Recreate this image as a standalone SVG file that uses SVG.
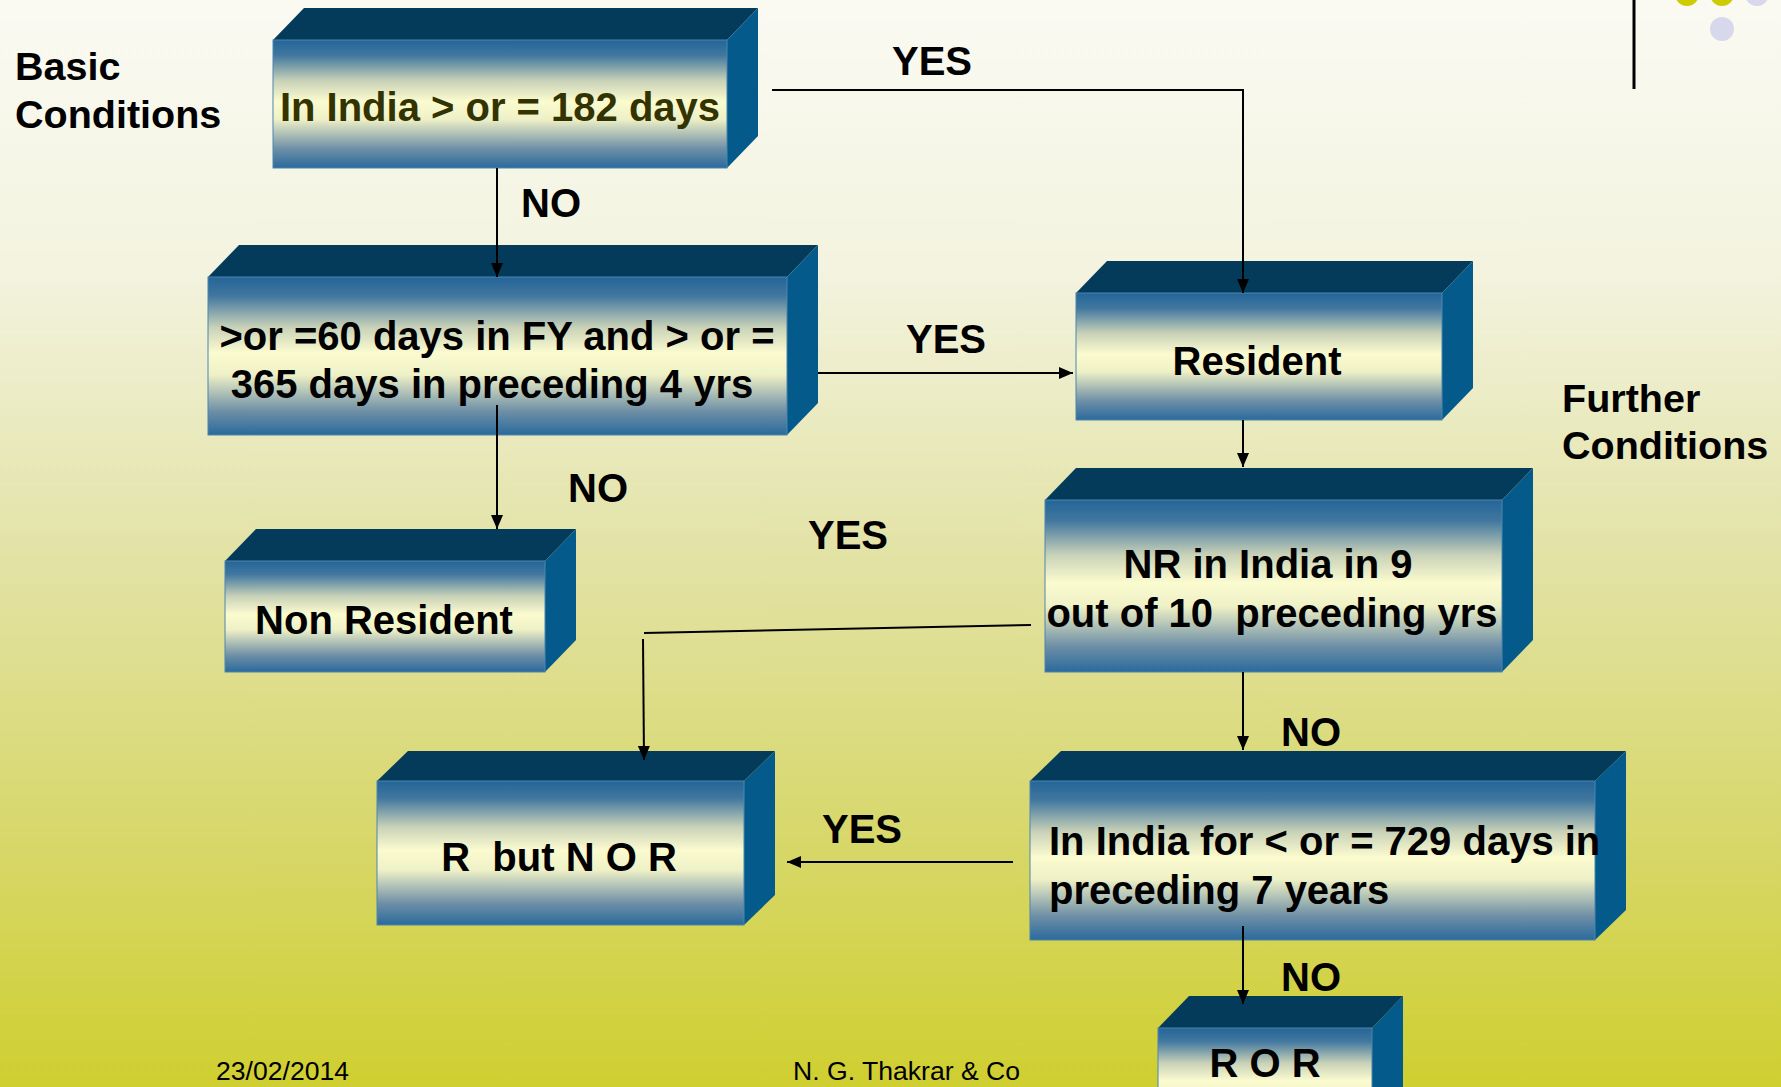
<svg xmlns="http://www.w3.org/2000/svg" width="1781" height="1087" viewBox="0 0 1781 1087">
<defs>
<linearGradient id="bg" x1="0" y1="0" x2="0" y2="1">
<stop offset="0" stop-color="#fafaf3"/>
<stop offset="0.25" stop-color="#f3f3df"/>
<stop offset="0.5" stop-color="#e3e3a8"/>
<stop offset="0.75" stop-color="#d8d870"/>
<stop offset="1" stop-color="#cfcf30"/>
</linearGradient>
<linearGradient id="face" x1="0" y1="0" x2="0" y2="1">
<stop offset="0" stop-color="#246598"/>
<stop offset="0.12" stop-color="#41779f"/>
<stop offset="0.32" stop-color="#c9d2b8"/>
<stop offset="0.48" stop-color="#fbfbcf"/>
<stop offset="0.62" stop-color="#eef0c6"/>
<stop offset="0.85" stop-color="#6e8fa6"/>
<stop offset="1" stop-color="#2a6a9c"/>
</linearGradient>
<marker id="arr" markerWidth="14" markerHeight="12" refX="14" refY="6" orient="auto" markerUnits="userSpaceOnUse">
<path d="M0,0 L14,6 L0,12 z" fill="#000"/>
</marker>
<style>
.front{fill:url(#face);stroke:#4d86ad;stroke-width:1}
.top{fill:#043b5a}
.side{fill:#045a8a}
.t{font-family:"Liberation Sans",Arial,sans-serif;font-weight:bold;font-size:40px;fill:#000}
.lbl{font-family:"Liberation Sans",Arial,sans-serif;font-weight:bold;font-size:39.5px;fill:#000}
.ft{font-family:"Liberation Sans",Arial,sans-serif;font-size:25px;fill:#000}
.c{fill:none;stroke:#000;stroke-width:2}
</style>
</defs>
<rect x="0" y="0" width="1781" height="1087" fill="url(#bg)"/>

<g id="decor">
<line x1="1634" y1="0" x2="1634" y2="89" stroke="#000" stroke-width="3"/>
<circle cx="1687" cy="-6" r="12" fill="#cccc00"/>
<circle cx="1722" cy="-6" r="12" fill="#cccc00"/>
<circle cx="1757" cy="-6" r="12" fill="#d8d8ec"/>
<circle cx="1722" cy="29" r="12" fill="#d8d8ec"/>
<circle cx="1793" cy="29" r="12" fill="#d8d8ec"/>
</g>

<g id="labels">
<text class="lbl" x="15" y="80">Basic</text>
<text class="lbl" x="15" y="128">Conditions</text>
<text class="lbl" x="1562" y="412">Further</text>
<text class="lbl" x="1562" y="459">Conditions</text>
<text class="t" x="892" y="75">YES</text>
<text class="t" x="521" y="217">NO</text>
<text class="t" x="906" y="353">YES</text>
<text class="t" x="568" y="502">NO</text>
<text class="t" x="808" y="549">YES</text>
<text class="t" x="1281" y="746">NO</text>
<text class="t" x="822" y="843">YES</text>
<text class="t" x="1281" y="991">NO</text>
</g>

<g id="nodeA">
<polygon class="top" points="273,40 304,8 758,8 727,40"/>
<polygon class="side" points="727,40 758,8 758,136 727,168"/>
<rect class="front" x="273" y="40" width="454" height="128"/>
<text class="t" x="500" y="121" text-anchor="middle" style="fill:#333300">In India &gt; or = 182 days</text>
</g>

<g id="nodeB">
<polygon class="top" points="208,277 239,245 818,245 787,277"/>
<polygon class="side" points="787,277 818,245 818,403 787,435"/>
<rect class="front" x="208" y="277" width="579" height="158"/>
<text class="t" x="497" y="350" text-anchor="middle">&gt;or =60 days in FY and &gt; or =</text>
<text class="t" x="492" y="398" text-anchor="middle">365 days in preceding 4 yrs</text>
</g>

<g id="nodeC">
<polygon class="top" points="1076,293 1107,261 1473,261 1442,293"/>
<polygon class="side" points="1442,293 1473,261 1473,388 1442,420"/>
<rect class="front" x="1076" y="293" width="366" height="127"/>
<text class="t" x="1257" y="375" text-anchor="middle">Resident</text>
</g>

<g id="nodeD">
<polygon class="top" points="225,561 256,529 576,529 545,561"/>
<polygon class="side" points="545,561 576,529 576,640 545,672"/>
<rect class="front" x="225" y="561" width="320" height="111"/>
<text class="t" x="384" y="634" text-anchor="middle">Non Resident</text>
</g>

<g id="nodeE">
<polygon class="top" points="1045,500 1076,468 1533,468 1502,500"/>
<polygon class="side" points="1502,500 1533,468 1533,640 1502,672"/>
<rect class="front" x="1045" y="500" width="457" height="172"/>
<text class="t" x="1268" y="578" text-anchor="middle">NR in India in 9</text>
<text class="t" x="1272" y="627" text-anchor="middle" xml:space="preserve">out of 10  preceding yrs</text>
</g>

<g id="nodeF">
<polygon class="top" points="377,781 408,751 775,751 744,781"/>
<polygon class="side" points="744,781 775,751 775,895 744,925"/>
<rect class="front" x="377" y="781" width="367" height="144"/>
<text class="t" x="559" y="871" text-anchor="middle" xml:space="preserve">R  but N O R</text>
</g>

<g id="nodeG">
<polygon class="top" points="1030,781 1061,751 1626,751 1595,781"/>
<polygon class="side" points="1595,781 1626,751 1626,910 1595,940"/>
<rect class="front" x="1030" y="781" width="565" height="159"/>
<text class="t" x="1049" y="855">In India for &lt; or = 729 days in</text>
<text class="t" x="1049" y="904">preceding 7 years</text>
</g>

<g id="nodeH">
<polygon class="top" points="1158,1028 1189,996 1403,996 1372,1028"/>
<polygon class="side" points="1372,1028 1403,996 1403,1106 1372,1138"/>
<rect class="front" x="1158" y="1028" width="214" height="110"/>
<text class="t" x="1265" y="1077" text-anchor="middle">R O R</text>
</g>

<g id="connectors">
<polyline class="c" points="772,90 1243,90 1243,293" marker-end="url(#arr)"/>
<line class="c" x1="497" y1="168" x2="497" y2="277" marker-end="url(#arr)"/>
<line class="c" x1="818" y1="373" x2="1073" y2="373" marker-end="url(#arr)"/>
<line class="c" x1="497" y1="405" x2="497" y2="529" marker-end="url(#arr)"/>
<line class="c" x1="1243" y1="420" x2="1243" y2="467" marker-end="url(#arr)"/>
<line class="c" x1="1031" y1="625" x2="644" y2="633"/>
<line class="c" x1="643" y1="639" x2="644" y2="760" marker-end="url(#arr)"/>
<line class="c" x1="1243" y1="672" x2="1243" y2="750" marker-end="url(#arr)"/>
<line class="c" x1="1013" y1="862" x2="787" y2="862" marker-end="url(#arr)"/>
<line class="c" x1="1243" y1="926" x2="1243" y2="1004" marker-end="url(#arr)"/>
</g>

<g id="footer">
<text class="ft" x="216" y="1080" textLength="133" lengthAdjust="spacingAndGlyphs">23/02/2014</text>
<text class="ft" x="793" y="1080" textLength="227" lengthAdjust="spacingAndGlyphs">N. G. Thakrar &amp; Co</text>
</g>
</svg>
